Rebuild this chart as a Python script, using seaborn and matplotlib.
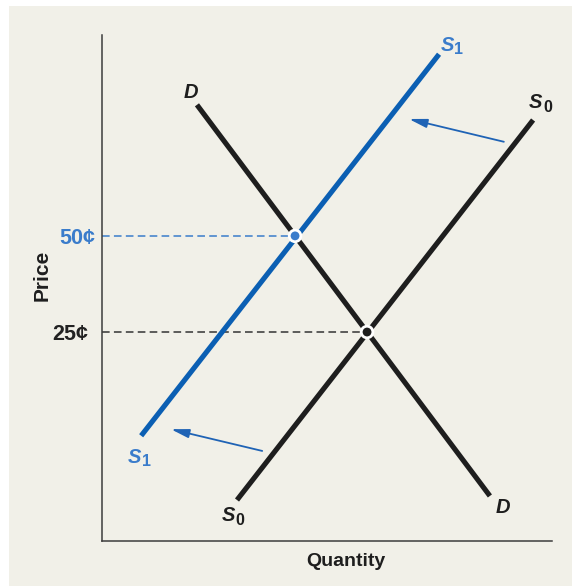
import matplotlib
matplotlib.use("Agg")
import numpy as np
import pandas as pd
import matplotlib.pyplot as plt
import seaborn as sns
from matplotlib.patches import Rectangle

# ---- data (Quantity 0-100, Price 0-100 in arbitrary units) ----
curve_names = ["D", "D", "S0", "S0", "S1", "S1"]
quantity = [21.1, 86.2, 30.0, 95.8, 8.7, 74.9]
price = [86.2, 8.9, 8.1, 83.2, 20.8, 96.2]

eq_quantity = [58.9, 42.9]          # S0 x D, S1 x D
eq_price = [41.3, 60.3]
eq_labels = ["25¢", "50¢"]
eq_colors = ["#222222", "#3a7ccb"]

# shift arrows: (tail q, tail p, head q, head p)
arrow_tail_q = [89.3, 35.6]
arrow_tail_p = [78.9, 17.8]
arrow_head_q = [68.2, 15.3]
arrow_head_p = [83.4, 22.1]

BG = "#f1f0e8"
BLUE_LINE = "#0b5fb3"
BLUE_TXT = "#3a7ccb"
BLACK = "#1e1e1e"

sns.set_theme(style="white")
plt.rcParams["font.family"] = ["Liberation Sans", "DejaVu Sans"]

W, H = 574, 586
fig = plt.figure(figsize=(W / 100, H / 100), dpi=100, facecolor="white")
fig.patches.append(Rectangle((9 / W, 0), (572 - 9) / W, (586 - 6) / H,
                             transform=fig.transFigure, facecolor=BG,
                             edgecolor="none", zorder=-10))

ax = fig.add_axes([102 / W, (H - 541) / H, (552 - 102) / W, (541 - 35) / H])
ax.set_zorder(5)
ax.patch.set_alpha(0)

df = pd.DataFrame({"curve": curve_names, "Quantity": quantity, "Price": price})
sns.lineplot(data=df, x="Quantity", y="Price", hue="curve",
             palette={"D": BLACK, "S0": BLACK, "S1": BLUE_LINE},
             units="curve", estimator=None, sort=False, lw=3.7,
             solid_capstyle="butt", legend=False, ax=ax, zorder=3)

# dashed guide lines
for q, p, c in zip(eq_quantity, eq_price, ["#333333", BLUE_TXT]):
    ax.plot([0, q], [p, p], color=c, lw=1.1, ls=(0, (5, 2.8)), zorder=2)

# equilibrium dots
sns.scatterplot(x=eq_quantity, y=eq_price, hue=eq_labels,
                palette={"25¢": BLACK, "50¢": BLUE_TXT}, s=70,
                edgecolor="white", linewidth=2, legend=False, ax=ax, zorder=5)

# arrows
for tq, tp, hq, hp in zip(arrow_tail_q, arrow_tail_p, arrow_head_q, arrow_head_p):
    ax.annotate("", xy=(hq, hp), xytext=(tq, tp),
                arrowprops=dict(arrowstyle="-|>,head_length=0.9,head_width=0.22",
                                color="#1f63b5", lw=1.3, shrinkA=0, shrinkB=0))

ax.set_xlim(0, 100)
ax.set_ylim(0, 100)
ax.set_xticks([])
ax.set_yticks(eq_price)
ax.set_yticklabels(eq_labels, fontsize=15.5, fontweight="bold")
for lab, c in zip(ax.get_yticklabels(), eq_colors):
    lab.set_color(c)
ticks = ax.yaxis.get_major_ticks()
ticks[0].set_pad(10)
ticks[1].set_pad(5)
ax.tick_params(axis="y", length=0)

ax.set_xlabel("Quantity", fontsize=14, fontweight="bold", color=BLACK)
ax.xaxis.set_label_coords(0.542, -0.024)
ax.set_ylabel("Price", fontsize=15, fontweight="bold", color=BLACK)
ax.yaxis.set_label_coords(-0.112, 0.524)

for s in ["top", "right"]:
    ax.spines[s].set_visible(False)
for s in ["left", "bottom"]:
    ax.spines[s].set_color("#3c3c3c")
    ax.spines[s].set_linewidth(1.1)

# curve labels
lab_font = dict(fontsize=14.5, fontweight="bold", fontstyle="italic",
                ha="center", va="center", clip_on=False)
ax.text(19.8, 88.7, "D", color=BLACK, **lab_font)
ax.text(89.1, 6.7, "D", color=BLACK, **lab_font)

def s_label(q, p, sub, color):
    ax.text(q, p, "S", color=color, **lab_font)
    ax.annotate(sub, xy=(q, p), xytext=(8.5, -3.5), textcoords="offset points",
                fontsize=11.5, fontweight="bold", color=color,
                ha="center", va="center", annotation_clip=False)

s_label(96.4, 86.6, "0", BLACK)
s_label(28.0, 5.1, "0", BLACK)
s_label(76.7, 98.0, "1", BLUE_TXT)
s_label(7.3, 16.6, "1", BLUE_TXT)

fig.savefig("out.png", dpi=100, facecolor="white")
